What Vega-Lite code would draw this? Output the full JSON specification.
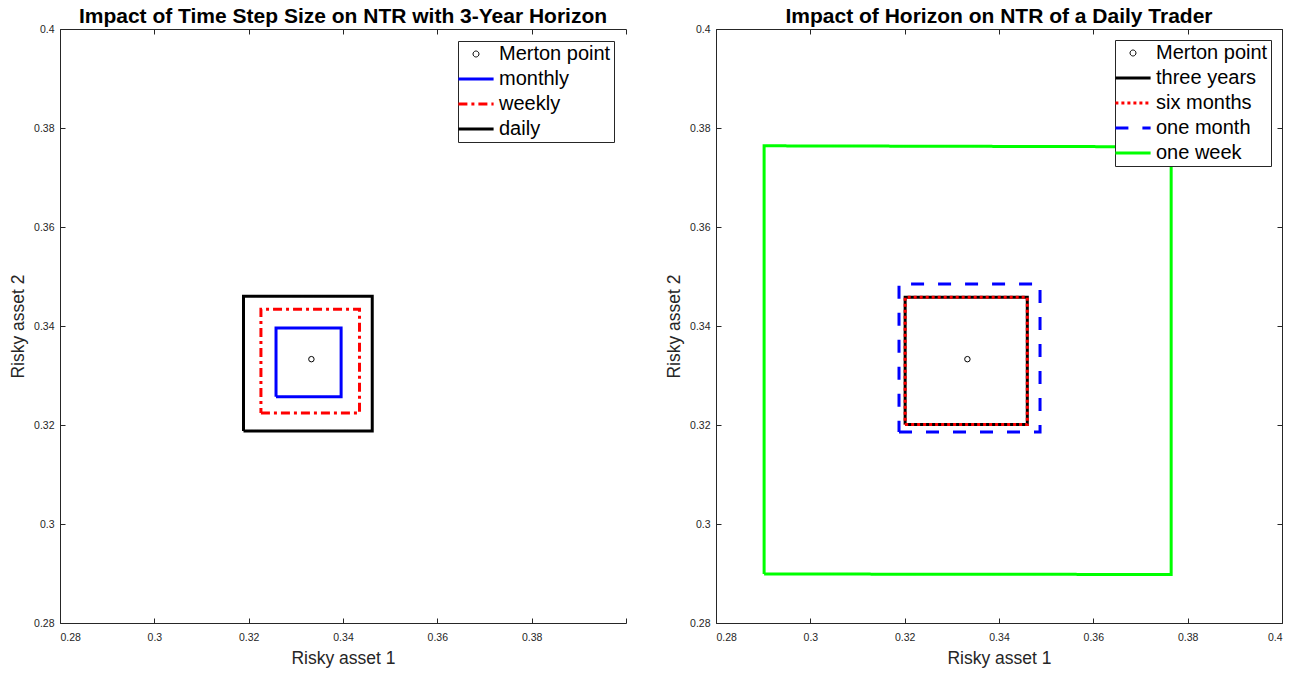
{
  "$schema": "https://vega.github.io/schema/vega-lite/v6.json",
  "padding": {"left": 9, "top": 6, "right": 5, "bottom": 5},
  "background": "white",
  "spacing": 38,
  "config": {
    "view": {"stroke": null},
    "axis": {
      "grid": false,
      "labelFont": "Liberation Sans",
      "labelFontSize": 10.5,
      "labelColor": "#262626",
      "titleFont": "Liberation Sans",
      "titleFontSize": 17.5,
      "titleFontWeight": "normal",
      "titleColor": "#262626",
      "domainColor": "#262626",
      "tickColor": "#262626",
      "tickSize": -5,
      "labelPadding": 11
    },
    "title": {"font": "Liberation Sans", "fontSize": 21, "fontWeight": "bold", "color": "black", "anchor": "middle", "offset": -3}
  },
  "resolve": {"scale": {"x": "independent", "y": "independent", "color": "independent", "strokeDash": "independent"}},
  "hconcat": [
    {
      "width": 566,
      "height": 594,
      "title": "Impact of Time Step Size on NTR with 3-Year Horizon",
      "layer": [
        {
          "data": {"values": [
            {"series": "monthly", "idx": 0, "x": 0.3258, "y": 0.3257},
            {"series": "monthly", "idx": 1, "x": 0.3396, "y": 0.3257},
            {"series": "monthly", "idx": 2, "x": 0.3396, "y": 0.3396},
            {"series": "monthly", "idx": 3, "x": 0.3258, "y": 0.3396},
            {"series": "monthly", "idx": 4, "x": 0.3258, "y": 0.3257},
            {"series": "weekly", "idx": 0, "x": 0.3226, "y": 0.3224},
            {"series": "weekly", "idx": 1, "x": 0.3435, "y": 0.3224},
            {"series": "weekly", "idx": 2, "x": 0.3435, "y": 0.3434},
            {"series": "weekly", "idx": 3, "x": 0.3226, "y": 0.3434},
            {"series": "weekly", "idx": 4, "x": 0.3226, "y": 0.3224},
            {"series": "daily", "idx": 0, "x": 0.3189, "y": 0.3188},
            {"series": "daily", "idx": 1, "x": 0.3462, "y": 0.3188},
            {"series": "daily", "idx": 2, "x": 0.3462, "y": 0.346},
            {"series": "daily", "idx": 3, "x": 0.3189, "y": 0.346},
            {"series": "daily", "idx": 4, "x": 0.3189, "y": 0.3188}
          ]},
          "mark": {"type": "line", "strokeWidth": 3, "strokeJoin": "miter", "strokeCap": "butt"},
          "encoding": {
            "x": {"field": "x", "type": "quantitative", "scale": {"domain": [0.28, 0.4], "nice": false, "zero": false},
                  "axis": {"orient": "bottom", "title": "Risky asset 1", "values": [0.28, 0.3, 0.32, 0.34, 0.36, 0.38, 0.4], "format": ".2~f", "labelPadding": 14, "titlePadding": 7, "labelExpr": "datum.value > 0.399 ? '' : datum.label"}},
            "y": {"field": "y", "type": "quantitative", "scale": {"domain": [0.28, 0.4], "nice": false, "zero": false},
                  "axis": {"orient": "left", "title": "Risky asset 2", "values": [0.28, 0.3, 0.32, 0.34, 0.36, 0.38, 0.4], "format": ".2~f", "titlePadding": 6}},
            "order": {"field": "idx", "type": "quantitative"},
            "color": {"field": "series", "type": "nominal",
              "scale": {"domain": ["Merton point", "monthly", "weekly", "daily"], "range": ["#000000", "#0000FF", "#FF0000", "#000000"]},
              "legend": {
                "title": null, "orient": "top-right", "offset": 12, "padding": 3,
                "strokeColor": "#262626", "fillColor": "white",
                "labelFont": "Liberation Sans", "labelFontSize": 20, "labelColor": "black",
                "symbolSize": 484, "symbolStrokeWidth": 3, "symbolType": "M-1.6,0L1.6,0",
                "symbolOffset": 5, "rowPadding": 5, "labelOffset": 13,
                "encode": {"symbols": {"update": {
                  "shape": {"signal": "datum.value === 'Merton point' ? 'M0.27,0A0.27,0.27,0,1,1,-0.27,0A0.27,0.27,0,1,1,0.27,0Z' : 'M-1.6,0L1.6,0'"},
                  "strokeWidth": {"signal": "datum.value === 'Merton point' ? 1 : 3"},
                  "strokeDash": {"signal": "datum.value === 'weekly' ? [9, 4, 3, 4] : [1, 0]"},
                  "fill": {"value": "transparent"}
                }}}
              }},
            "strokeDash": {"field": "series", "type": "nominal",
              "scale": {"domain": ["monthly", "weekly", "daily"], "range": [[1, 0], [9, 4, 3, 4], [1, 0]]},
              "legend": null}
          }
        },
        {
          "data": {"values": [{"series": "Merton point", "x": 0.3333, "y": 0.3333}]},
          "mark": {"type": "point", "shape": "circle", "filled": false, "size": 30, "strokeWidth": 1, "color": "black", "opacity": 1},
          "encoding": {
            "x": {"field": "x", "type": "quantitative", "scale": {"domain": [0.28, 0.4], "nice": false, "zero": false},
                  "axis": {"orient": "top", "title": null, "labels": false, "values": [0.28, 0.3, 0.32, 0.34, 0.36, 0.38, 0.4]}},
            "y": {"field": "y", "type": "quantitative", "scale": {"domain": [0.28, 0.4], "nice": false, "zero": false}, "axis": null}
          }
        }
      ],
      "resolve": {"axis": {"x": "independent", "y": "independent"}}
    },
    {
      "width": 566,
      "height": 594,
      "title": "Impact of Horizon on NTR of a Daily Trader",
      "layer": [
        {
          "data": {"values": [
            {"series": "one week", "idx": 0, "x": 0.2902, "y": 0.2899},
            {"series": "one week", "idx": 1, "x": 0.3765, "y": 0.2898},
            {"series": "one week", "idx": 2, "x": 0.3765, "y": 0.3762},
            {"series": "one week", "idx": 3, "x": 0.2902, "y": 0.3764},
            {"series": "one week", "idx": 4, "x": 0.2902, "y": 0.2899},
            {"series": "one month", "idx": 0, "x": 0.3188, "y": 0.3186},
            {"series": "one month", "idx": 1, "x": 0.3487, "y": 0.3186},
            {"series": "one month", "idx": 2, "x": 0.3487, "y": 0.3485},
            {"series": "one month", "idx": 3, "x": 0.3188, "y": 0.3485},
            {"series": "one month", "idx": 4, "x": 0.3188, "y": 0.3186},
            {"series": "three years", "idx": 0, "x": 0.3201, "y": 0.3201},
            {"series": "three years", "idx": 1, "x": 0.346, "y": 0.3201},
            {"series": "three years", "idx": 2, "x": 0.346, "y": 0.3458},
            {"series": "three years", "idx": 3, "x": 0.3201, "y": 0.3458},
            {"series": "three years", "idx": 4, "x": 0.3201, "y": 0.3201},
            {"series": "six months", "idx": 0, "x": 0.3201, "y": 0.3201},
            {"series": "six months", "idx": 1, "x": 0.346, "y": 0.3201},
            {"series": "six months", "idx": 2, "x": 0.346, "y": 0.3458},
            {"series": "six months", "idx": 3, "x": 0.3201, "y": 0.3458},
            {"series": "six months", "idx": 4, "x": 0.3201, "y": 0.3201}
          ]},
          "mark": {"type": "line", "strokeWidth": 3, "strokeJoin": "miter", "strokeCap": "butt"},
          "encoding": {
            "x": {"field": "x", "type": "quantitative", "scale": {"domain": [0.28, 0.4], "nice": false, "zero": false},
                  "axis": {"orient": "bottom", "title": "Risky asset 1", "values": [0.28, 0.3, 0.32, 0.34, 0.36, 0.38, 0.4], "format": ".2~f", "labelPadding": 14, "titlePadding": 7}},
            "y": {"field": "y", "type": "quantitative", "scale": {"domain": [0.28, 0.4], "nice": false, "zero": false},
                  "axis": {"orient": "left", "title": "Risky asset 2", "values": [0.28, 0.3, 0.32, 0.34, 0.36, 0.38, 0.4], "format": ".2~f", "titlePadding": 6}},
            "order": {"field": "idx", "type": "quantitative"},
            "color": {"field": "series", "type": "nominal",
              "scale": {"domain": ["Merton point", "three years", "six months", "one month", "one week"], "range": ["#000000", "#000000", "#FF0000", "#0000FF", "#00FF00"]},
              "legend": {
                "title": null, "orient": "top-right", "offset": 11, "padding": 3,
                "strokeColor": "#262626", "fillColor": "white",
                "labelFont": "Liberation Sans", "labelFontSize": 20, "labelColor": "black",
                "symbolSize": 484, "symbolStrokeWidth": 3, "symbolType": "M-1.6,0L1.6,0",
                "symbolOffset": 5, "rowPadding": 5, "labelOffset": 13,
                "encode": {"symbols": {"update": {
                  "shape": {"signal": "datum.value === 'Merton point' ? 'M0.27,0A0.27,0.27,0,1,1,-0.27,0A0.27,0.27,0,1,1,0.27,0Z' : 'M-1.6,0L1.6,0'"},
                  "strokeWidth": {"signal": "datum.value === 'Merton point' ? 1 : 3"},
                  "strokeDash": {"signal": "datum.value === 'six months' ? [3, 3] : datum.value === 'one month' ? [13, 14] : [1, 0]"},
                  "fill": {"value": "transparent"}
                }}}
              }},
            "strokeDash": {"field": "series", "type": "nominal",
              "scale": {"domain": ["three years", "six months", "one month", "one week"], "range": [[1, 0], [3, 3], [13, 14], [1, 0]]},
              "legend": null}
          }
        },
        {
          "data": {"values": [{"series": "Merton point", "x": 0.3333, "y": 0.3333}]},
          "mark": {"type": "point", "shape": "circle", "filled": false, "size": 30, "strokeWidth": 1, "color": "black", "opacity": 1},
          "encoding": {
            "x": {"field": "x", "type": "quantitative", "scale": {"domain": [0.28, 0.4], "nice": false, "zero": false},
                  "axis": {"orient": "top", "title": null, "labels": false, "values": [0.28, 0.3, 0.32, 0.34, 0.36, 0.38, 0.4]}},
            "y": {"field": "y", "type": "quantitative", "scale": {"domain": [0.28, 0.4], "nice": false, "zero": false},
                  "axis": {"orient": "right", "title": null, "labels": false, "values": [0.28, 0.3, 0.32, 0.34, 0.36, 0.38, 0.4]}}
          }
        }
      ],
      "resolve": {"axis": {"x": "independent", "y": "independent"}}
    }
  ]
}
